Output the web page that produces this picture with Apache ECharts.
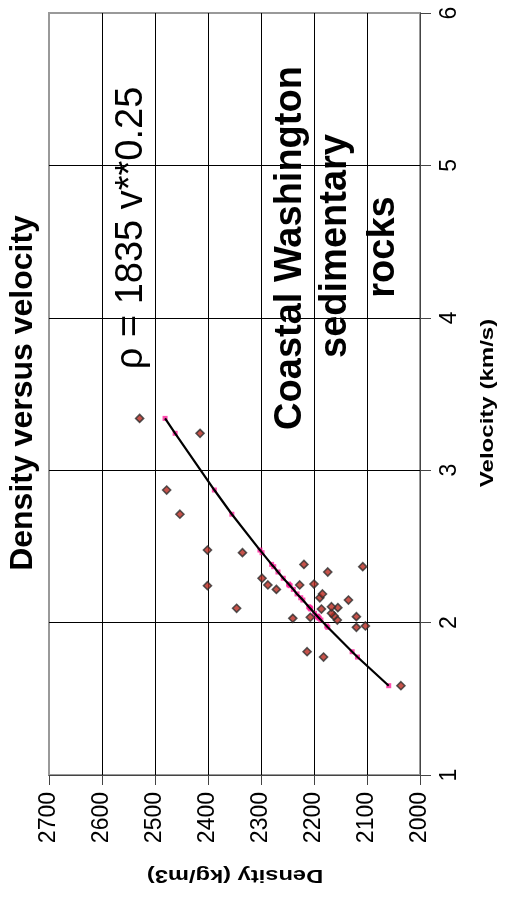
<!DOCTYPE html>
<html>
<head>
<meta charset="utf-8">
<script src="https://cdn.jsdelivr.net/npm/echarts@6/dist/echarts.min.js"></script>
<style>html,body{margin:0;padding:0;background:#fff}#c{width:505px;height:898px}</style>
</head>
<body>
<div id="c"></div>
<script>
// Measured samples (velocity km/s, density kg/m3)
const velocity = [1.586,1.774,1.809,1.969,1.978,2.017,2.028,2.035,2.039,2.043,2.061,2.089,2.094,2.098,2.104,2.148,2.163,2.188,2.218,2.242,2.247,2.247,2.253,2.291,2.332,2.367,2.382,2.459,2.476,2.711,2.870,3.242,3.340];
const density  = [2036,2182,2213,2120,2103,2156,2240,2207,2120,2162,2167,2186,2346,2155,2167,2135,2189,2184,2271,2401,2287,2227,2200,2298,2174,2108,2219,2335,2401,2453,2478,2415,2529];
// Fitted curve points (rho = 1835 v^0.25)
const fitVelocity = [1.586,1.774,1.809,1.969,1.978,2.017,2.028,2.035,2.039,2.043,2.061,2.089,2.094,2.098,2.104,2.148,2.163,2.188,2.218,2.242,2.247,2.253,2.291,2.332,2.367,2.382,2.459,2.476,2.711,2.870,3.242,3.340];
const fitDensity  = [2059,2118,2128,2174,2176,2187,2190,2192,2193,2194,2199,2206,2207,2208,2210,2221,2225,2232,2239,2245,2247,2248,2258,2268,2276,2280,2298,2302,2355,2388,2462,2481];
const densityTicks = [2000,2100,2200,2300,2400,2500,2600,2700];
const velocityTicks = [1,2,3,4,5,6];

const FONT = '"Liberation Sans", Arial, Helvetica, sans-serif';
const chart = echarts.init(document.getElementById('c'), null, {renderer: 'canvas'});

const samples = velocity.map((v, i) => [density[i], v]);
const fit = fitVelocity.map((v, i) => [fitDensity[i], v]);

function txt(text, x, y, rot, size, weight, scaleX) {
  return {
    type: 'text', x: x, y: y, rotation: rot, scaleX: scaleX || 1, z: 100,
    style: { text: text, font: weight + ' ' + size + 'px ' + FONT, fill: '#000',
             align: 'center', verticalAlign: 'middle', textAlign: 'center', textVerticalAlign: 'middle' }
  };
}

chart.setOption({
  animation: false,
  backgroundColor: '#fff',
  grid: { left: 49, right: 85, top: 13, bottom: 123, show: true, borderColor: '#999', borderWidth: 2, outerBoundsMode: 'none', containLabel: false },
  xAxis: {
    type: 'value', min: densityTicks[0], max: densityTicks[densityTicks.length - 1], interval: 100,
    inverse: true, position: 'bottom',
    axisLine: { show: true, onZero: false, lineStyle: { color: '#444', width: 1 } },
    axisTick: { show: true, length: 10, lineStyle: { color: '#444' } },
    axisLabel: { rotate: 90, margin: 17, fontSize: 23, fontFamily: FONT, color: '#000',
                 formatter: v => densityTicks.indexOf(v) >= 0 ? String(v) : '' },
    splitLine: { show: true, showMaxLine: false, lineStyle: { color: '#000', width: 1 } }
  },
  yAxis: {
    type: 'value', min: velocityTicks[0], max: velocityTicks[velocityTicks.length - 1], interval: 1,
    position: 'right',
    axisLine: { show: true, onZero: false, lineStyle: { color: '#444', width: 1 } },
    axisTick: { show: true, length: 11, lineStyle: { color: '#444' } },
    axisLabel: { rotate: 90, margin: 18, fontSize: 23, fontFamily: FONT, color: '#000',
                 formatter: v => velocityTicks.indexOf(v) >= 0 ? String(v) : '' },
    splitLine: { show: true, showMaxLine: false, lineStyle: { color: '#000', width: 1 } }
  },
  series: [
    { type: 'scatter', data: fit, symbol: 'rect', symbolSize: 5, itemStyle: { color: '#ff1f9a' }, z: 2, silent: true },
    { type: 'line', data: fit, showSymbol: false, symbol: 'none', lineStyle: { color: '#000', width: 2.2 }, z: 3, silent: true },
    { type: 'scatter', data: samples, symbol: 'diamond', symbolSize: 8,
      itemStyle: { color: '#b8281e', borderColor: '#2e2e2e', borderWidth: 1.6 }, z: 4, silent: true }
  ],
  graphic: [
    txt('Density versus velocity', 23, 393, Math.PI / 2, 32, 'bold', 1),
    txt('ρ = 1835 v**0.25', 132, 228, Math.PI / 2, 38, 'normal', 1),
    txt('Coastal Washington', 291, 248, Math.PI / 2, 38, 'bold', 1),
    txt('sedimentary', 336, 246, Math.PI / 2, 38, 'bold', 1),
    txt('rocks', 384, 247, Math.PI / 2, 38, 'bold', 1),
    txt('Velocity (km/s)', 488, 403, Math.PI / 2, 18.5, 'bold', 1.3),
    txt('Density (kg/m3)', 235, 875, Math.PI, 18.5, 'bold', 1.28)
  ]
});
</script>
</body>
</html>
